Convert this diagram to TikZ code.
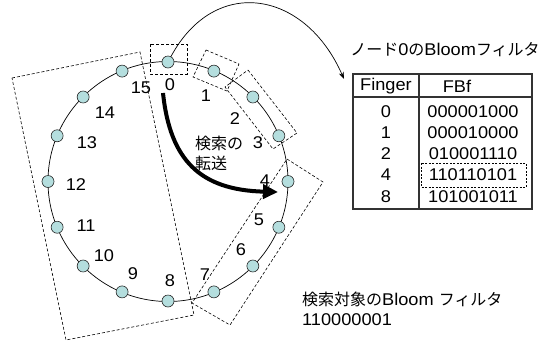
\documentclass[tikz,border=0pt]{standalone}
\usepackage{fontspec}
\setmainfont{Liberation Sans}[FakeStretch=1.07]
\newfontfamily\cjk{Noto Sans CJK JP}
\usetikzlibrary{arrows.meta}
\definecolor{nodefill}{RGB}{180,222,222}
\begin{document}
\begin{tikzpicture}[x=1pt,y=-1pt,
  ringnode/.style={circle,draw=black!85,fill=nodefill,minimum size=12pt,inner sep=0pt,line width=0.6pt},
  lbl/.style={font=\fontsize{17}{20}\selectfont,inner sep=0pt},
  jlbl/.style={font=\fontsize{16}{20}\selectfont,inner sep=0pt},
  selbox/.style={draw,dash pattern=on 3pt off 2pt,line width=0.6pt},
  tline/.style={draw=black!80,line width=1.2pt}]
\useasboundingbox (0,0) rectangle (549,341);

% ring
\coordinate (ctr) at (168,181.5);
\draw[line width=0.7pt] (ctr) circle [radius=120pt];

% dashed selection boxes
\coordinate (s0a) at (150,44); \coordinate (s0b) at (187,74);
\draw[selbox] (s0a) rectangle (s0b);
\coordinate (s1a) at (206,50); \coordinate (s1b) at (239,64);
\coordinate (s1c) at (227,91); \coordinate (s1d) at (193,77);
\draw[selbox] (s1a) -- (s1b) -- (s1c) -- (s1d) -- cycle;
\coordinate (s2a) at (248,70); \coordinate (s2b) at (297,133);
\coordinate (s2c) at (273,149); \coordinate (s2d) at (225,87);
\draw[selbox] (s2a) -- (s2b) -- (s2c) -- (s2d) -- cycle;
\coordinate (s4a) at (287,159); \coordinate (s4b) at (323,182);
\coordinate (s4c) at (230,325); \coordinate (s4d) at (192,303);
\draw[selbox] (s4a) -- (s4b) -- (s4c) -- (s4d) -- cycle;
\coordinate (s8a) at (12,78); \coordinate (s8b) at (140,52);
\coordinate (s8c) at (194,315); \coordinate (s8d) at (66,340);
\draw[selbox] (s8a) -- (s8b) -- (s8c) -- (s8d) -- cycle;

% ring nodes
\foreach \k in {0,...,15}{
  \node[ringnode] (n\k) at ({168+120*sin(22.5*\k)},{181.5-119.5*cos(22.5*\k)}) {};
}

% node labels
\foreach \k/\x/\y in {0/170/85,1/206/96,2/235/119,3/258/143,4/265/181,5/259/220,
  6/241/250,7/205/275,8/170/281,9/133/274,10/104/256,11/86/226,12/76/185,
  13/87/143,14/105/113,15/141/88}{
  \node[lbl] (l\k) at (\x,\y) {\k};
}

% search forwarding arrow
\coordinate (fwdA) at (163,93);
\coordinate (fwdB) at (278,192);
\draw[line width=4pt,-{Triangle[length=15pt,width=14pt]}]
  (fwdA) .. controls (170,160) and (200,190) .. (fwdB);
\node[jlbl,anchor=west] (fwdt1) at (195,143.5) {\cjk 検索の};
\node[jlbl,anchor=west] (fwdt2) at (195,163.5) {\cjk 転送};

% table
\node[tline,minimum width=179pt,minimum height=135pt,inner sep=0pt] (tbl) at (442.5,141.5) {};
\coordinate (hl) at (353,97); \coordinate (hr) at (532,97);
\coordinate (vt) at (419,74); \coordinate (vb) at (419,209);
\draw[tline] (hl) -- (hr);
\draw[tline] (vt) -- (vb);
\node[lbl] (hf) at (386,86) {Finger};
\node[lbl] (hb) at (457,86) {FBf};
\foreach \f/\b/\y [count=\i] in {0/000001000/111.5,1/000010000/132.5,2/010001110/154,4/110110101/175,8/101001011/197}{
  \node[lbl] (f\i) at (386,\y) {\f};
  \node[lbl] (b\i) at (473,\y) {\b};
}
\coordinate (hb1) at (421,163); \coordinate (hb2) at (526,187);
\draw[dash pattern=on 2pt off 1.5pt,line width=0.6pt] (hb1) rectangle (hb2);

% title and connector
\node[lbl] (title) at (445,50) {{\cjk\fontsize{16}{20}\selectfont ノード}0{\cjk\fontsize{16}{20}\selectfont の}Bloom{\cjk\fontsize{16}{20}\selectfont フィルタ}};
\coordinate (tin) at (344,79);
\draw[line width=0.7pt,-{Stealth[length=7pt,width=5pt]}] (n0) .. controls (215,-25) and (305,-10) .. (tin);

% query filter
\node[lbl,anchor=west] (q1) at (302,299) {{\cjk\fontsize{16}{20}\selectfont 検索対象の}Bloom {\cjk\fontsize{16}{20}\selectfont フィルタ}};
\node[lbl,anchor=west] (q2) at (302,320) {110000001};
\end{tikzpicture}
\end{document}
